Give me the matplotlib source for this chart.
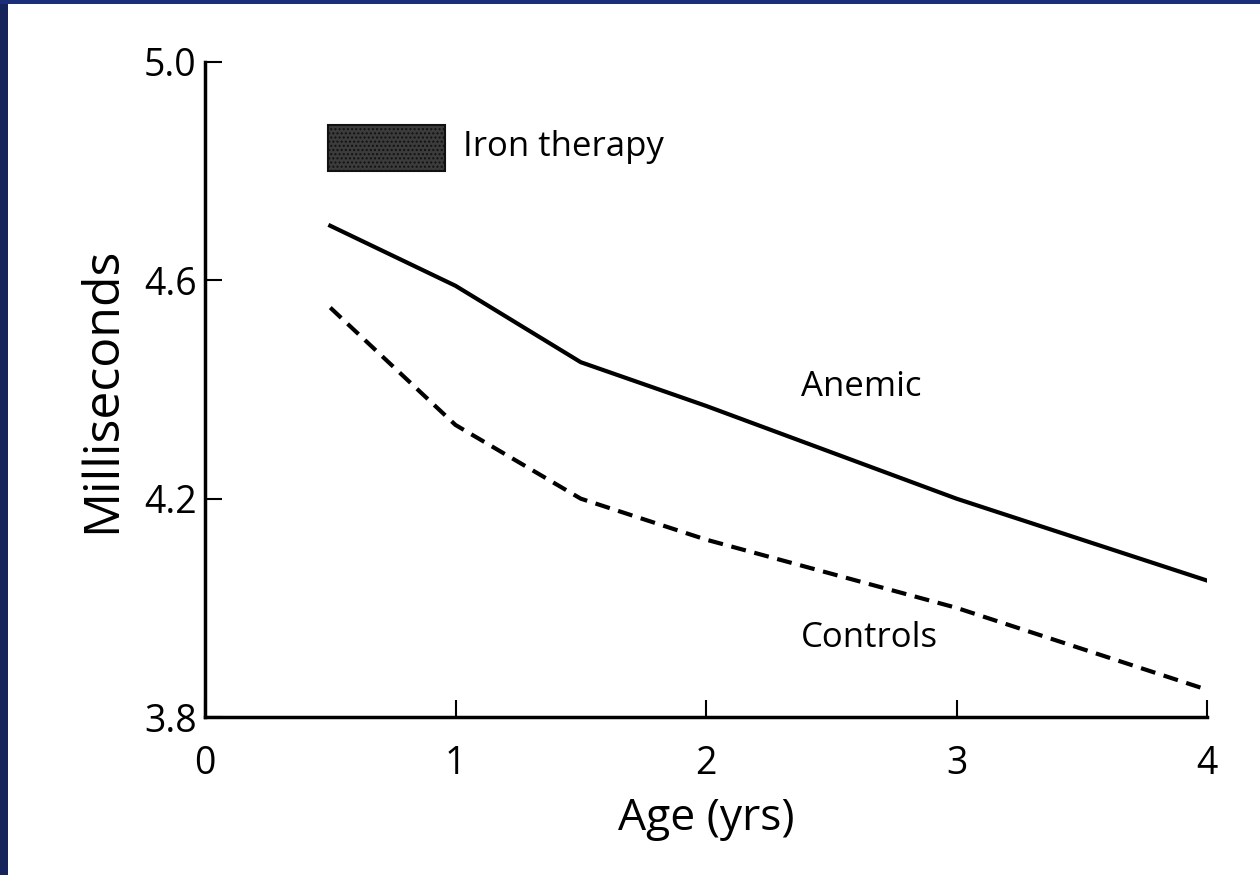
import matplotlib.pyplot as plt
from matplotlib.patches import Rectangle

# Data
age = [0.5, 1.0, 1.5, 2.0, 3.0, 4.0]
anemic = [4.70, 4.59, 4.45, 4.37, 4.20, 4.05]
controls = [4.55, 4.335, 4.20, 4.125, 4.00, 3.85]
x_ticks = [0, 1, 2, 3, 4]
y_ticks = [3.8, 4.2, 4.6, 5.0]
therapy_span = (0.49, 0.96)
therapy_level = (4.80, 4.885)

plt.rcParams['font.family'] = ['Open Sans', 'DejaVu Sans']
plt.rcParams['hatch.color'] = '#9a9a9a'

fig = plt.figure(figsize=(12.6, 8.75), dpi=100)
fig.patch.set_facecolor('white')
# slide border (dark blue) on left and top
fig.patches.append(Rectangle((0, 0), 8 / 1260, 1, transform=fig.transFigure,
                             facecolor='#15245a', edgecolor='none', zorder=0))
fig.patches.append(Rectangle((0, 1 - 4 / 875), 1, 4 / 875, transform=fig.transFigure,
                             facecolor='#1d2e78', edgecolor='none', zorder=0))

ax = fig.add_axes([205 / 1260, 1 - 717 / 875, 1002 / 1260, 655 / 875])

ax.plot(age, anemic, color='black', lw=3)
ax.plot(age, controls, color='black', lw=3, linestyle=(0, (3.6, 2.1)))

ax.add_patch(Rectangle((therapy_span[0], therapy_level[0]),
                       therapy_span[1] - therapy_span[0],
                       therapy_level[1] - therapy_level[0],
                       facecolor='#3c3c3c', edgecolor='#111111', hatch='....', lw=1.5))

ax.text(1.03, 4.845, 'Iron therapy', fontsize=25, va='center', ha='left')
ax.text(2.38, 4.405, 'Anemic', fontsize=25, va='center', ha='left')
ax.text(2.38, 3.945, 'Controls', fontsize=25, va='center', ha='left')

ax.set_xlim(0, 4)
ax.set_ylim(3.8, 5.0)
ax.set_xticks(x_ticks)
ax.set_yticks(y_ticks)
ax.set_yticklabels([f'{v:.1f}' for v in y_ticks])
ax.tick_params(direction='in', length=12, width=1.5, labelsize=27, pad=6)
ax.tick_params(axis='x', pad=20)
ax.spines['top'].set_visible(False)
ax.spines['right'].set_visible(False)
ax.spines['left'].set_linewidth(2.5)
ax.spines['bottom'].set_linewidth(2.5)

ax.set_xlabel('Age (yrs)', fontsize=32, labelpad=10)
ax.set_ylabel('Milliseconds', fontsize=36, labelpad=12)

fig.savefig('out.png', dpi=100)
